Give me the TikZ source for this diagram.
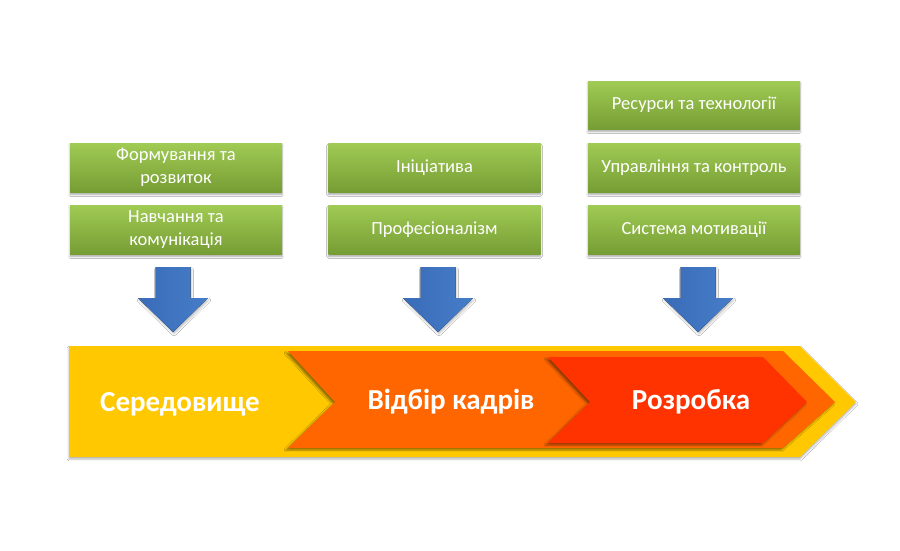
\documentclass[tikz,border=0pt]{standalone}
\usepackage{fontspec}
\setmainfont{Carlito}
\usetikzlibrary{shadows,shadows.blur}
\definecolor{yel}{RGB}{255,200,0}
\definecolor{ora}{RGB}{255,102,0}
\definecolor{redd}{RGB}{255,51,0}
\definecolor{gtop}{RGB}{160,203,84}
\definecolor{gbot}{RGB}{118,157,52}
\definecolor{bluA}{RGB}{58,108,184}
\definecolor{bluB}{RGB}{70,125,200}
\tikzset{
  gbox/.style={rectangle, minimum width=212pt, minimum height=49pt, inner sep=1pt,
    top color=gtop, bottom color=gbot, text=white, align=center,
    font=\fontsize{18.5}{22.5}\selectfont,
    blur shadow={shadow xshift=0pt, shadow yshift=-2.5pt, shadow blur steps=5, shadow opacity=35}},
  bigtxt/.style={text=white, font=\bfseries\fontsize{29}{32}\selectfont},
  downarrow/.style={left color=bluA, right color=bluB,
    blur shadow={shadow xshift=1pt, shadow yshift=-2pt, shadow blur steps=4, shadow opacity=25}},
  chev/.style={blur shadow={shadow xshift=-2pt, shadow yshift=-2pt, shadow blur steps=4, shadow opacity=45}},
  chevy/.style={blur shadow={shadow xshift=0pt, shadow yshift=-2pt, shadow blur steps=4, shadow opacity=30}},
}
\begin{document}
\begin{tikzpicture}[x=1pt,y=-1pt]
\useasboundingbox (0,0) rectangle (900,550);
\fill[white] (0,0) rectangle (900,550);

% big chevrons
\fill[yel, chevy] (69,346) -- (800,346) -- (856,402) -- (800,457) -- (69,457) -- cycle;
\fill[ora, chev] (288,351) -- (783,351) -- (835,402) -- (783,448) -- (288,448) -- (335,402) -- cycle;
\fill[redd, chev] (548,357) -- (763,357) -- (807,402) -- (763,443) -- (548,443) -- (590,402) -- cycle;

\node[bigtxt] (t1) at (180,404) {Середовище};
\node[bigtxt] (t2) at (451,402) {Відбір кадрів};
\node[bigtxt] (t3) at (691,402) {Розробка};

% green boxes
\node[gbox] (a1) at (176,167.5) {Формування та\\розвиток};
\node[gbox] (a2) at (176,229.5) {Навчання та\\комунікація};
\node[gbox] (b1) at (434.5,167.5) {Ініціатива};
\node[gbox] (b2) at (434.5,229.5) {Професіоналізм};
\node[gbox, minimum height=48pt] (c1) at (694,105) {Ресурси та технології};
\node[gbox] (c2) at (694,167.5) {Управління та контроль};
\node[gbox] (c3) at (694,229.5) {Система мотивації};

% blue arrows
\foreach \cx in {173,438,698}{
  \fill[downarrow] (\cx-17.5,267) -- (\cx+17.5,267) -- (\cx+17.5,298) -- (\cx+35,298)
    -- (\cx,332) -- (\cx-35,298) -- (\cx-17.5,298) -- cycle;
}
\end{tikzpicture}
\end{document}
